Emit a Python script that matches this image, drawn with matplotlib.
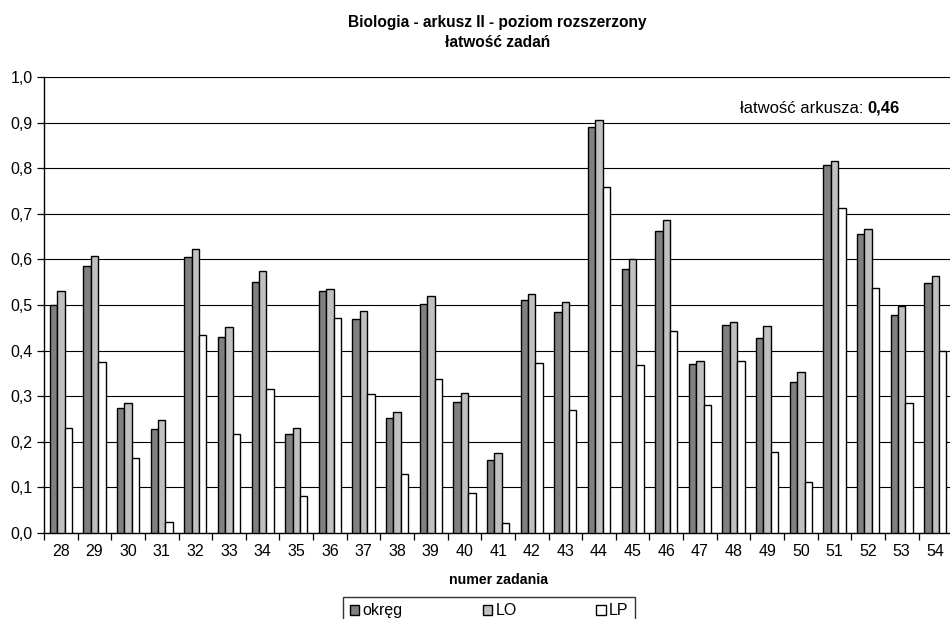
import numpy as np
import matplotlib.pyplot as plt
from matplotlib.ticker import FuncFormatter, FixedLocator

plt.rcParams['font.family'] = ['Liberation Sans', 'DejaVu Sans']

# numery zadan i latwosc dla trzech grup
zadania = list(range(28, 55))
okreg = [0.50, 0.585, 0.275, 0.228, 0.605, 0.43, 0.55, 0.217, 0.53, 0.47,
         0.253, 0.502, 0.287, 0.16, 0.51, 0.484, 0.89, 0.578, 0.663, 0.37,
         0.455, 0.427, 0.332, 0.806, 0.655, 0.477, 0.549]
lo = [0.53, 0.607, 0.285, 0.248, 0.622, 0.452, 0.574, 0.231, 0.535, 0.487,
      0.265, 0.52, 0.308, 0.175, 0.525, 0.506, 0.905, 0.60, 0.686, 0.378,
      0.462, 0.453, 0.354, 0.816, 0.667, 0.497, 0.564]
lp = [0.23, 0.375, 0.165, 0.025, 0.435, 0.218, 0.315, 0.08, 0.472, 0.305,
      0.13, 0.338, 0.087, 0.022, 0.372, 0.27, 0.758, 0.368, 0.444, 0.28,
      0.378, 0.177, 0.112, 0.712, 0.537, 0.286, 0.40]
latwosc_arkusza = 0.46

fig = plt.figure(figsize=(9.5, 6.19), dpi=100)
ax = fig.add_axes([0.0463, 0.139, 0.956, 0.7366])

x = np.array(zadania)
w = 0.22
ax.bar(x - w, okreg, w, color='#808080', edgecolor='black', linewidth=1.0, label='okręg', zorder=3)
ax.bar(x, lo, w, color='#c0c0c0', edgecolor='black', linewidth=1.0, label='LO', zorder=3)
ax.bar(x + w, lp, w, color='white', edgecolor='black', linewidth=1.0, label='LP', zorder=3)

ax.set_ylim(0, 1.0)
ax.set_xlim(zadania[0] - 0.5, zadania[-1] + 0.5)
ax.set_yticks(np.arange(0, 1.01, 0.1))
ax.yaxis.set_major_formatter(FuncFormatter(lambda v, p: f"{v:.1f}".replace('.', ',')))
ax.yaxis.grid(True, color='black', linewidth=0.8, zorder=0)

ax.set_xticks(x)
ax.set_xticklabels([str(z) for z in zadania])
ax.xaxis.set_minor_locator(FixedLocator(np.arange(zadania[0] - 0.5, zadania[-1] + 1, 1)))
ax.tick_params(axis='x', which='major', length=0, pad=8, labelsize=11.5)
ax.tick_params(axis='x', which='minor', length=5, width=0.9, direction='out')
ax.tick_params(axis='y', length=5, width=0.9, labelsize=11.5, pad=3)

for s in ['top', 'right']:
    ax.spines[s].set_visible(False)
ax.spines['left'].set_linewidth(1.0)
ax.spines['bottom'].set_linewidth(1.0)

ax.set_xlabel('numer zadania', fontsize=10.2, fontweight='bold', labelpad=10)

fig.text(0.524, 0.975, 'Biologia - arkusz II - poziom rozszerzony\nłatwość zadań',
         ha='center', va='top', fontsize=11.2, fontweight='bold', linespacing=1.35)

t1 = ax.text(0.907, 0.932, 'łatwość arkusza: ', transform=ax.transAxes,
             ha='right', va='center', fontsize=12)
ax.annotate(f"{latwosc_arkusza:.2f}".replace('.', ','), xycoords=t1, xy=(1, 0.5),
            va='center', ha='left', fontsize=12, fontweight='bold')

leg = fig.legend(loc='upper center', bbox_to_anchor=(0.515, 1 - 597 / 619), ncol=3,
                 frameon=True, fancybox=False, edgecolor='black', fontsize=11.5,
                 handlelength=0.6, handleheight=0.6, handletextpad=0.2,
                 columnspacing=5.0, borderpad=0.4, borderaxespad=0)
leg.get_frame().set_linewidth(1.0)

plt.savefig('out.png', dpi=100)
